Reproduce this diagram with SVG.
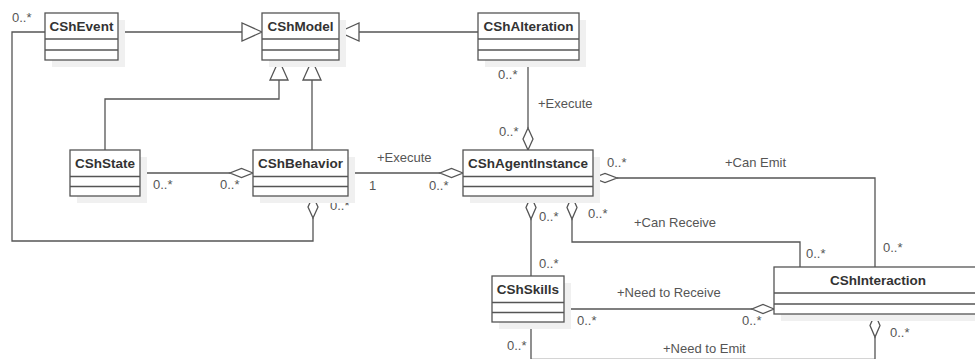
<svg xmlns="http://www.w3.org/2000/svg" width="975" height="359" viewBox="0 0 975 359">
<style>
.shadow{fill:#f0f0f0;stroke:none}
.box{fill:#ffffff;stroke:#555;stroke-width:1.3}
.div{stroke:#555;stroke-width:1.3;fill:none}
.name{font-family:"Liberation Sans",Arial,sans-serif;font-size:13.5px;font-weight:bold;fill:#333;text-anchor:middle}
.ln{fill:none;stroke:#555;stroke-width:1.3}
.tri{fill:#fff;stroke:#555;stroke-width:1.3}
.dia{fill:#fff;stroke:#555;stroke-width:1.3}
.lbl{font-family:"Liberation Sans",Arial,sans-serif;font-size:13px;fill:#555}
</style>
<rect width="975" height="359" fill="#fff"/>

<g id="connectors">
  <!-- generalizations -->
  <path class="ln" d="M118,32 H242"/>
  <polygon class="tri" points="262,32 242,23 242,41"/>
  <path class="ln" d="M478,32 H359"/>
  <polygon class="tri" points="339,32 359,23 359,41"/>
  <path class="ln" d="M105,150 V99 H279 V80"/>
  <polygon class="tri" points="279,60 270,80 288,80"/>
  <path class="ln" d="M312,150 V80"/>
  <polygon class="tri" points="312,60 303,80 321,80"/>
  <!-- State - Behavior -->
  <path class="ln" d="M140,173 H230"/>
  <polygon class="dia" points="253,173 241.5,168.5 230,173 241.5,177.5"/>
  <!-- Behavior - Event -->
  <path class="ln" d="M313,218 V241 H12 V32 H45"/>
  <polygon class="dia" points="313,196 318,207 313,218 308,207"/>
  <!-- Behavior - AgentInstance -->
  <path class="ln" d="M348,173 H440"/>
  <polygon class="dia" points="463,173 451.5,168.5 440,173 451.5,177.5"/>
  <!-- Alteration - AgentInstance -->
  <path class="ln" d="M528,60 V128"/>
  <polygon class="dia" points="528,150 523,139 528,128 533,139"/>
  <!-- AgentInstance - Interaction (Can Emit) -->
  <path class="ln" d="M617,178 H875 V267"/>
  <polygon class="dia" points="593,178 605,173.5 617,178 605,182.5"/>
  <!-- AgentInstance - Skills -->
  <path class="ln" d="M531,219 V276"/>
  <polygon class="dia" points="531,196 536,207.5 531,219 526,207.5"/>
  <!-- AgentInstance - Interaction (Can Receive) -->
  <path class="ln" d="M572,219 V242 H800 V267"/>
  <polygon class="dia" points="572,196 577,207.5 572,219 567,207.5"/>
  <!-- Skills - Interaction (Need to Receive) -->
  <path class="ln" d="M564,309 H752"/>
  <polygon class="dia" points="774,309 763,304.5 752,309 763,313.5"/>
  <!-- Skills - Interaction (Need to Emit) -->
  <path class="ln" d="M531,322 V359.4 H875 V337"/>
  <polygon class="dia" points="875,314 880,325.5 875,337 870,325.5"/>
</g>

<g id="labels">
  <text class="lbl" x="12" y="22">0..*</text>
  <text class="lbl" x="498" y="79">0..*</text>
  <text class="lbl" x="538" y="108">+Execute</text>
  <text class="lbl" x="499" y="136">0..*</text>
  <text class="lbl" x="377" y="162">+Execute</text>
  <text class="lbl" x="369" y="190">1</text>
  <text class="lbl" x="429" y="190">0..*</text>
  <text class="lbl" x="607" y="167">0..*</text>
  <text class="lbl" x="725" y="167">+Can Emit</text>
  <text class="lbl" x="539" y="221">0..*</text>
  <text class="lbl" x="588" y="218">0..*</text>
  <text class="lbl" x="634" y="227">+Can Receive</text>
  <text class="lbl" x="806" y="258">0..*</text>
  <text class="lbl" x="883" y="252">0..*</text>
  <text class="lbl" x="539" y="268">0..*</text>
  <text class="lbl" x="617" y="297">+Need to Receive</text>
  <text class="lbl" x="577" y="325">0..*</text>
  <text class="lbl" x="742" y="325">0..*</text>
  <text class="lbl" x="890" y="337">0..*</text>
  <text class="lbl" x="507" y="350">0..*</text>
  <text class="lbl" x="663" y="353">+Need to Emit</text>
  <text class="lbl" x="153" y="189">0..*</text>
  <text class="lbl" x="220" y="189">0..*</text>
  <text class="lbl" x="330" y="210">0..*</text>
</g>

<g id="CShEvent">
  <rect class="shadow" x="52" y="20" width="73" height="47"/>
  <rect class="box" x="45" y="13" width="73" height="47"/>
  <path class="div" d="M45,39 H118 M45,50 H118"/>
  <text class="name" x="81.5" y="31">CShEvent</text>
</g>
<g id="CShModel">
  <rect class="shadow" x="269" y="20" width="77" height="47"/>
  <rect class="box" x="262" y="13" width="77" height="47"/>
  <path class="div" d="M262,39 H339 M262,50 H339"/>
  <text class="name" x="300.5" y="31">CShModel</text>
</g>
<g id="CShAlteration">
  <rect class="shadow" x="485" y="20" width="101" height="47"/>
  <rect class="box" x="478" y="13" width="101" height="47"/>
  <path class="div" d="M478,39 H579 M478,50 H579"/>
  <text class="name" x="528.5" y="31">CShAlteration</text>
</g>
<g id="CShState">
  <rect class="shadow" x="77" y="157" width="70" height="46"/>
  <rect class="box" x="70" y="150" width="70" height="46"/>
  <path class="div" d="M70,176.5 H140 M70,186.5 H140"/>
  <text class="name" x="105" y="167.5">CShState</text>
</g>
<g id="CShBehavior">
  <rect class="shadow" x="260" y="157" width="95" height="46"/>
  <rect class="box" x="253" y="150" width="95" height="46"/>
  <path class="div" d="M253,176.5 H348 M253,186.5 H348"/>
  <text class="name" x="300.5" y="167.5">CShBehavior</text>
</g>
<g id="CShAgentInstance">
  <rect class="shadow" x="470" y="157" width="130" height="46"/>
  <rect class="box" x="463" y="150" width="130" height="46"/>
  <path class="div" d="M463,176.5 H593 M463,186.5 H593"/>
  <text class="name" x="528" y="167.5">CShAgentInstance</text>
</g>
<g id="CShSkills">
  <rect class="shadow" x="499" y="283" width="72" height="46"/>
  <rect class="box" x="492" y="276" width="72" height="46"/>
  <path class="div" d="M492,302.5 H564 M492,312.5 H564"/>
  <text class="name" x="528" y="293.5">CShSkills</text>
</g>
<g id="CShInteraction">
  <rect class="shadow" x="781" y="274" width="210" height="47"/>
  <rect class="box" x="774" y="267" width="210" height="47"/>
  <path class="div" d="M774,293 H984 M774,304 H984"/>
  <text class="name" x="878" y="284.5">CShInteraction</text>
</g>
</svg>
